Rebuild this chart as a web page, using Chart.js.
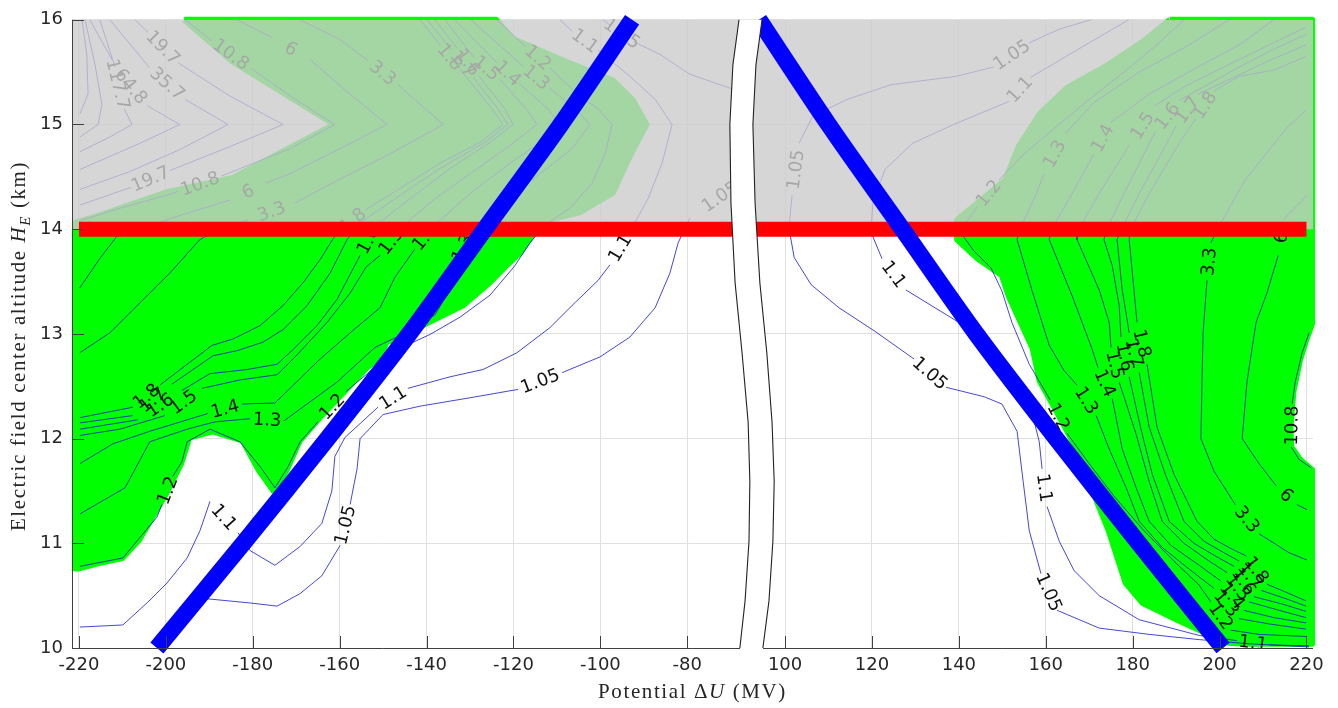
<!DOCTYPE html>
<html>
<head>
<meta charset="utf-8">
<title>Electric field center altitude vs potential</title>
<script src="https://cdn.jsdelivr.net/npm/chart.js@4.4.1/dist/chart.umd.min.js"></script>
<style>
  html, body { margin: 0; padding: 0; background: #ffffff; }
  #wrap { width: 1338px; height: 708px; position: relative; }
</style>
</head>
<body>
<div id="wrap"><canvas id="chart" width="1338" height="708"></canvas></div>
<script>
// ---------------- axes ----------------
const xTicksLeft  = [-220, -200, -180, -160, -140, -120, -100, -80];
const xTicksRight = [100, 120, 140, 160, 180, 200, 220];
const yTicks      = [10, 11, 12, 13, 14, 15, 16];
const xLimits     = [-221.6, 221.5];      // MV
const yLimits     = [10, 16];             // km
const breakShift  = 157.5;                // MV skipped between the two panels
const toAxis = v => (v < 0 ? v : v - breakShift);

// ---------------- reference lines ----------------
const ceilingAltitude = 14;               // km, shaded above
const ceilingSpan     = [-220, 220];      // MV
const blueLeft  = [[-202.05,10.0],[-182.2,11.0],[-162.8,12.0],[-144.0,13.0],[-126.6,14.0],[-109.1,15.0],[-92.7,16.0]];
const blueRight = [[94.0,16.0],[110.0,15.0],[127.0,14.0],[144.0,13.0],[162.4,12.0],[181.4,11.0],[200.8,10.0]];

// ---------------- region where the ratio exceeds the threshold ----------------
const greenLeft = [[-195.8,16],[-124,16],[-120.2,15.82],[-107.9,15.6],[-97.1,15.42],[-92.5,15.23],[-89.4,15.0],[-91.7,14.82],[-94,14.63],[-97.1,14.35],[-104.8,14.16],[-110.9,14.1],[-115.5,13.95],[-118.6,13.77],[-121.7,13.65],[-125.5,13.49],[-131.7,13.27],[-140,13.1],[-146,12.97],[-149.2,12.92],[-150.8,12.77],[-153.9,12.67],[-164.6,12.2],[-169.2,11.98],[-172.3,11.69],[-175.2,11.5],[-178.5,11.69],[-182.3,11.98],[-189.2,12.07],[-194.6,12.01],[-196.5,11.76],[-200,11.47],[-203.1,11.25],[-206.2,11.03],[-210,10.86],[-215.4,10.81],[-220,10.76],[-220.9,10.76],[-220.9,14.06],[-215.4,14.13],[-200,14.35],[-184.6,14.49],[-161.2,15.0],[-184.6,15.6],[-195.8,16]];
const greenRight = [[188.6,16],[221.3,16],[221.3,13.1],[220.0,12.95],[218.5,12.75],[217.0,12.45],[216.3,12.1],[216.5,11.92],[218.5,11.8],[221.3,11.7],[221.3,10.04],[206,10.04],[202,10.05],[198.1,10.12],[190.2,10.27],[182.3,10.43],[178.4,10.62],[174.4,11.13],[170.4,11.54],[166.5,11.95],[161.7,12.32],[158.6,12.55],[157,12.86],[153.8,13.15],[151.4,13.37],[149.9,13.56],[144.3,13.72],[139.6,13.9],[139.6,14.09],[144.3,14.25],[150.7,14.47],[153.8,14.79],[158.6,15.1],[164.9,15.35],[174.4,15.57],[182.3,15.79],[188.6,16]];

// ---------------- contour lines (null = label position) ----------------
const cL105a = [[-201.4,10.0],[-195.6,10.27],[-190.5,10.47],[-180.6,10.43],[-174.4,10.40],[-169.1,10.52],[-164.1,10.69],[-159.9,10.98],null,[-157.6,11.37],[-156.0,11.71],[-155.3,12.0],[-150.0,12.23],[-141.5,12.31],[-130.0,12.39],[-118.95,12.47],null,[-108.8,12.63],[-100.1,12.78],[-93.2,12.97],[-87.4,13.25],[-84.0,13.58],[-82.1,13.87],[-79.4,14.11],null,[-65.6,14.51]];
const cL105b = [[-99.4,16.0],[-97.8,15.95],null,[-92.3,15.79],[-86.3,15.67],[-79.4,15.48],[-69.0,15.33]];
const cL11 = [[-219.8,10.20],[-209.9,10.22],[-204.35,10.43],[-199.75,10.62],[-195.1,10.86],[-192.15,11.12],[-189.85,11.40],null,[-183.4,11.10],[-180.6,10.93],[-174.9,10.79],[-169.1,10.97],[-164.1,11.19],[-161.8,11.50],[-161.1,11.83],[-158.8,12.01],[-151.2,12.30],null,[-144.3,12.48],[-134.6,12.59],[-127.0,12.66],[-119.2,12.82],[-111.6,13.06],[-105.8,13.30],[-100.55,13.51],[-97.8,13.66],null,[-93.2,13.98],[-89.05,14.29],[-85.8,14.63],[-83.5,15.0],[-87.4,15.24],[-93.2,15.46],[-100.55,15.71],null,[-106.5,15.89],[-109.3,16.0]];
const cL12 = [[-219.8,10.78],[-209.9,10.86],[-202.05,11.25],[-200.9,11.37],null,[-198.4,11.64],[-196.3,11.78],[-195.1,11.97],[-189.85,12.09],[-182.95,11.97],[-177.9,11.71],[-174.9,11.53],[-171.9,11.73],[-169.1,11.97],[-165.0,12.16],null,[-158.55,12.45],[-147.3,12.84],[-139.2,12.995],[-132.3,13.16],[-125.4,13.37],[-119.7,13.65],[-116.2,13.87],[-112.75,14.04],[-107.0,14.20],[-101.9,14.44],[-98.9,14.72],[-97.3,15.0],[-100.55,15.15],[-104.7,15.27],[-111.6,15.54],null,[-117.1,15.74],[-123.8,16.0]];
const cL13 = [[-219.8,11.28],[-209.4,11.53],[-203.7,11.97],[-195.1,12.09],[-188.7,12.16],[-180.6,12.19],null,[-172.8,12.17],[-160.6,12.54],[-151.9,12.87],[-143.8,13.03],[-138.1,13.18],[-135.1,13.39],[-133.5,13.66],null,[-130.0,13.98],[-122.0,14.27],[-113.9,14.53],[-106.5,14.77],[-102.4,15.0],[-105.8,15.15],[-111.8,15.35],null,[-117.6,15.55],[-129.8,16.0]];
const cL14 = [[-219.8,11.76],[-212.2,11.95],[-203.7,12.07],[-190.3,12.24],null,[-182.5,12.33],[-174.9,12.34],[-164.5,12.76],[-157.6,13.01],[-150.7,13.25],[-147.3,13.54],[-142.7,13.81],null,[-138.1,14.04],[-130.0,14.34],[-120.8,14.63],[-112.75,14.86],[-109.3,15.0],[-112.1,15.15],[-118.7,15.39],null,[-123.8,15.59],[-133.5,16.0]];
const cL15 = [[-219.8,12.03],[-210.6,12.09],[-200.2,12.22],null,[-191.7,12.48],[-182.95,12.56],[-174.4,12.61],[-169.8,12.80],[-162.9,13.11],[-157.6,13.39],[-153.9,13.64],[-150.7,13.75],null,[-145.7,14.02],[-138.1,14.29],[-130.0,14.53],[-120.8,14.80],[-114.6,15.0],[-116.7,15.13],[-123.3,15.44],null,[-129.1,15.64],[-135.8,16.0]];
const cL16 = [[-219.8,12.09],[-206.4,12.18],null,[-196.3,12.46],[-189.85,12.62],[-181.3,12.66],[-174.4,12.71],[-170.75,12.85],[-165.2,13.08],[-160.6,13.33],[-155.3,13.75],null,[-151.6,14.04],[-143.8,14.29],[-134.6,14.58],[-125.4,14.83],[-120.1,15.0],[-122.0,15.15],[-127.9,15.46],null,[-133.0,15.73],[-138.1,16.0]];
const cL17 = [[-219.8,12.15],[-207.6,12.22],null,[-198.6,12.52],[-189.2,12.79],[-183.6,12.84],[-177.7,12.92],[-173.05,13.04],[-167.5,13.27],[-162.2,13.58],[-158.3,13.90],[-155.3,14.06],[-147.3,14.29],[-136.9,14.58],[-126.6,14.83],[-121.3,15.0],[-123.6,15.15],[-129.3,15.45],null,[-134.2,15.71],[-139.9,16.0]];
const cL18 = [[-219.8,12.20],[-207.6,12.30],null,[-201.4,12.51],[-189.4,12.89],[-184.6,12.95],[-178.3,13.08],[-173.05,13.27],[-168.4,13.49],[-164.5,13.71],[-161.5,13.91],[-160.2,13.98],null,[-153.9,14.19],[-146.1,14.39],[-136.9,14.63],[-127.7,14.83],[-122.4,15.0],[-124.95,15.15],[-132.3,15.53],null,[-136.9,15.76],[-141.5,16.0]];
const cL33 = [[-169.1,16.0],[-159.9,15.81],[-153.5,15.61],null,[-146.6,15.38],[-136.2,15.0],[-148.4,14.72],[-159.9,14.48],[-170.3,14.25],null,[-181.1,14.09],[-188.7,13.98],[-192.2,13.90],[-199.1,13.58],[-203.7,13.39],[-212.9,13.01],[-219.8,12.82]];
const cL6 = [[-183.6,16.0],[-175.6,15.83],null,[-166.8,15.62],[-157.6,15.29],[-149.1,15.0],[-159.9,14.77],[-171.4,14.53],[-177.0,14.44],null,[-185.2,14.28],[-199.1,14.10],[-211.3,13.93],[-215.2,13.72],[-219.8,13.44]];
const cL108 = [[-195.6,16.0],[-189.4,15.80],null,[-180.6,15.54],[-169.1,15.21],[-161.1,15.0],[-171.4,14.77],[-187.1,14.51],null,[-197.2,14.36],[-200.2,14.32],[-210.6,14.20],[-219.8,14.08]];
const cL197 = [[-207.1,16.0],[-204.1,15.88],null,[-197.2,15.59],[-185.2,15.27],[-173.0,15.0],[-185.2,14.79],[-199.1,14.56],null,[-208.0,14.40],[-219.8,14.23]];
const cL357 = [[-212.9,16.0],[-203.7,15.54],null,[-195.6,15.24],[-185.7,15.0],[-196.8,14.76],[-208.3,14.55],[-219.8,14.38]];
const cL648 = [[-215.2,16.0],[-211.7,15.55],null,[-204.3,15.18],[-196.8,15.0],[-206.0,14.82],[-219.8,14.57]];
const cL1177 = [[-217.5,16.0],[-212.4,15.62],null,[-209.6,15.15],[-207.8,15.0],[-212.9,14.88],[-219.8,14.74]];
const cL214 = [[-218.6,16.0],[-216.3,15.57],[-214.7,15.19],[-215.6,15.0],[-219.8,14.88]];
const cL389 = [[-219.3,16.0],[-218.2,15.67],[-217.9,15.29],[-219.8,15.1]];

const cR105 = [[170.4,16.0],[163.1,15.91],[156.2,15.78],null,[148.1,15.55],[139.4,15.46],[124.4,15.38],[114.3,15.24],[106.4,15.08],[103.2,14.82],null,[101.6,14.32],[100.9,14.01],[102.1,13.73],[106.0,13.47],[112.4,13.25],[120.5,13.03],[129.7,12.76],null,[137.05,12.49],[145.8,12.40],[149.9,12.33],[153.4,12.07],[154.8,11.59],[156.2,11.12],[158.9,10.71],null,[162.6,10.36],[172.3,10.19],[183.8,10.13],[195.3,10.08],[206.8,10.04],[220.6,10.01]];
const cR11 = [[179.1,16.0],[170.4,15.79],[156.5,15.45],null,[151.5,15.22],[138.8,15.0],[129.3,14.82],[123.0,14.57],[120.2,14.25],[119.8,13.97],[122.3,13.72],null,[127.8,13.42],[140.0,13.11],[146.95,12.87],[152.7,12.64],[156.2,12.35],[158.5,11.97],[159.15,11.71],null,[160.3,11.35],[163.1,11.02],[166.5,10.74],[172.3,10.50],[181.5,10.27],[195.3,10.12],[204.0,10.07],null,[211.4,10.03],[220.6,10.02]];
const cR12 = [[191.8,16.0],[186.1,15.78],[178.0,15.50],[170.0,15.24],[161.9,14.96],[155.0,14.72],[149.25,14.47],null,[144.4,14.22],[141.9,14.08],[140.0,13.99],[143.5,13.79],[147.4,13.63],[149.9,13.41],[152.2,13.11],[156.2,12.71],[161.0,12.37],null,[164.9,12.05],[170.0,11.76],[175.7,11.45],[182.6,11.12],[189.5,10.83],[195.3,10.60],[198.0,10.44],null,[202.6,10.17],[209.1,10.13],[219.9,10.11]];
const cR13 = [[202.2,16.0],[193.0,15.76],[181.5,15.50],[171.1,15.21],[164.4,14.91],null,[159.6,14.53],[157.3,14.29],[153.9,13.99],[153.4,13.90],[156.8,13.42],[160.8,12.89],[164.2,12.65],[167.2,12.51],null,[171.6,12.22],[174.6,11.90],[178.5,11.53],[181.5,11.21],[186.8,10.96],[193.4,10.74],[198.7,10.57],null,[204.5,10.28],[211.4,10.23],[219.9,10.18]];
const cR14 = [[212.5,16.0],[204.5,15.76],[194.1,15.53],[183.8,15.29],[175.0,15.02],null,[171.1,14.72],[165.4,14.29],[161.2,13.99],[160.8,13.90],[166.1,13.36],[170.7,12.85],[172.0,12.68],null,[175.3,12.38],[177.6,11.90],[180.8,11.53],[183.8,11.21],[188.8,10.98],[195.3,10.79],[200.3,10.64],null,[205.6,10.36],[212.5,10.29],[219.9,10.24]];
const cR15 = [[219.9,15.93],[211.4,15.76],[201.0,15.55],[191.8,15.36],[185.2,15.18],null,[179.2,14.80],[172.3,14.34],[167.4,13.99],[167.2,13.90],[172.3,13.42],[174.6,13.11],[175.0,12.87],null,[176.9,12.54],[180.8,12.04],[183.8,11.59],[186.8,11.21],[191.8,11.0],[197.6,10.83],[201.7,10.72],null,[206.8,10.44],[213.7,10.36],[219.9,10.29]];
const cR16 = [[219.9,15.86],[212.5,15.72],[204.5,15.55],[196.4,15.36],[190.7,15.23],null,[185.2,14.93],[178.0,14.34],[173.9,13.99],[173.4,13.90],[175.3,13.65],[176.9,13.27],[177.3,12.97],null,[179.2,12.59],[181.9,12.09],[184.5,11.66],[188.4,11.21],[194.1,11.0],[199.4,10.87],[203.3,10.78],null,[207.9,10.49],[214.4,10.42],[219.9,10.35]];
const cR17 = [[219.9,15.76],[211.4,15.61],[202.2,15.43],[195.1,15.29],null,[190.0,14.99],[187.2,14.77],[181.5,14.34],[177.3,13.99],[176.4,13.90],[177.6,13.42],[179.2,13.01],null,[181.5,12.63],[183.8,12.11],[187.5,11.66],[191.8,11.21],[196.4,11.02],[201.0,10.91],[204.5,10.83],null,[209.6,10.55],[215.3,10.47],[219.9,10.40]];
const cR18 = [[219.9,15.65],[212.5,15.52],[204.5,15.46],[198.7,15.32],null,[194.4,15.05],[190.7,14.82],[183.8,14.34],[179.4,13.99],[179.2,13.90],[181.0,13.11],null,[183.3,12.71],[185.6,12.11],[189.5,11.66],[194.8,11.21],[198.7,11.04],[202.6,10.95],[206.1,10.88],null,[210.9,10.61],[216.0,10.52],[219.9,10.45]];
const cR33 = [[219.9,15.14],[215.3,14.96],[205.9,14.47],[199.65,14.01],[198.0,13.87],null,[197.1,13.51],[196.2,13.01],[196.0,12.63],[195.7,12.0],[198.7,11.69],[203.6,11.37],null,[209.1,11.09],[216.0,10.91],[220.1,10.84]];
const cR6 = [[220.1,14.32],[216.0,14.15],[214.8,14.09],null,[213.5,13.75],[210.9,13.39],[208.4,13.11],[206.3,12.54],[205.2,12.0],[209.1,11.76],[213.0,11.55],null,[217.8,11.37],[220.1,11.32]];
const cR108 = [[220.6,13.01],[219.0,12.82],[217.4,12.54],[216.7,12.33],null,[216.5,11.92],[218.3,11.80],[221.1,11.72]];

const contourSet = [
  { level: '1.05', path: cL105a }, { level: '1.05', path: cL105b },
  { level: '1.1', path: cL11 }, { level: '1.2', path: cL12 },
  { level: '1.3', path: cL13 }, { level: '1.4', path: cL14 },
  { level: '1.5', path: cL15 }, { level: '1.6', path: cL16 },
  { level: '1.7', path: cL17 }, { level: '1.8', path: cL18 },
  { level: '3.3', path: cL33 }, { level: '6', path: cL6 },
  { level: '10.8', path: cL108 }, { level: '19.7', path: cL197 },
  { level: '35.7', path: cL357 }, { level: '64.8', path: cL648 },
  { level: '117.7', path: cL1177 }, { level: '214', path: cL214 },
  { level: '389', path: cL389 },
  { level: '1.05', path: cR105 }, { level: '1.1', path: cR11 },
  { level: '1.2', path: cR12 }, { level: '1.3', path: cR13 },
  { level: '1.4', path: cR14 }, { level: '1.5', path: cR15 },
  { level: '1.6', path: cR16 }, { level: '1.7', path: cR17 },
  { level: '1.8', path: cR18 }, { level: '3.3', path: cR33 },
  { level: '6', path: cR6 }, { level: '10.8', path: cR108 }
];

// axis-break outline, in axis units
const breakLeftEdge  = [[-68.1,16],[-69.5,15.57],[-70.2,15.0],[-69.95,14.25],[-69.0,13.49],[-67.4,12.82],[-66.0,12.16],[-65.6,11.59],[-65.8,11.02],[-66.7,10.45],[-67.9,10.0]];
const breakRightEdge = [[-62.8,16],[-64.2,15.57],[-64.9,15.0],[-64.4,14.25],[-63.3,13.49],[-61.7,12.82],[-60.5,12.16],[-60.0,11.59],[-60.3,11.02],[-61.2,10.45],[-62.6,10.0]];

// ---------------- build datasets ----------------
const xTickValues = xTicksLeft.concat(xTicksRight);
const toPts = arr => arr.map(p => (p ? { x: toAxis(p[0]), y: p[1] } : { x: null, y: null }));

const datasets = [];
contourSet.forEach(c => {
  datasets.push({
    label: 'contour ' + c.level,
    data: toPts(c.path),
    borderColor: 'rgba(25,25,205,0.8)',
    borderWidth: 1,
    pointRadius: 0,
    fill: false,
    spanGaps: false,
    order: 8
  });
});
const firstContourIndex = 0;

[greenLeft, greenRight].forEach(g => {
  datasets.push({
    label: 'exceeds',
    data: toPts(g),
    borderColor: '#00ff00',
    backgroundColor: '#00ff00',
    borderWidth: 6,
    borderJoinStyle: 'round',
    pointRadius: 0,
    fill: 'shape',
    clip: { left: 0, top: 6, right: 8, bottom: 0 },
    order: 10
  });
});

datasets.push({
  label: 'above ceiling',
  data: [
    { x: toAxis(xLimits[0]), y: ceilingAltitude },
    { x: toAxis(xLimits[1]), y: ceilingAltitude },
    { x: toAxis(xLimits[1]), y: yLimits[1] },
    { x: toAxis(xLimits[0]), y: yLimits[1] },
    { x: toAxis(xLimits[0]), y: ceilingAltitude }
  ],
  backgroundColor: 'rgba(204,204,204,0.8)',
  borderWidth: 0,
  pointRadius: 0,
  fill: 'shape',
  order: 6
});

datasets.push({
  label: 'ceiling',
  data: ceilingSpan.map(v => ({ x: toAxis(v), y: ceilingAltitude })),
  borderColor: '#ff0000',
  borderWidth: 15,
  borderCapStyle: 'butt',
  pointRadius: 0,
  fill: false,
  order: 4
});

[blueLeft, blueRight].forEach(b => {
  datasets.push({
    label: 'trajectory',
    data: toPts(b),
    borderColor: '#0000ff',
    borderWidth: 17,
    borderCapStyle: 'butt',
    borderJoinStyle: 'round',
    tension: 0.3,
    pointRadius: 0,
    fill: false,
    clip: false,
    order: 2
  });
});

// ---------------- plugins ----------------
const contourLabels = {
  id: 'contourLabels',
  afterDatasetDraw(chart, args) {
    if (args.index !== firstContourIndex) return;
    const { ctx, chartArea } = chart;
    const xs = chart.scales.x, ys = chart.scales.y;
    ctx.save();
    ctx.beginPath();
    ctx.rect(chartArea.left, chartArea.top, chartArea.right - chartArea.left, chartArea.bottom - chartArea.top);
    ctx.clip();
    ctx.font = '18px "DejaVu Sans"';
    ctx.fillStyle = '#111111';
    ctx.textAlign = 'center';
    ctx.textBaseline = 'middle';
    contourSet.forEach(c => {
      const p = c.path;
      for (let i = 1; i < p.length - 1; i++) {
        if (p[i] !== null) continue;
        const a = p[i - 1], b = p[i + 1];
        const ax = xs.getPixelForValue(toAxis(a[0])), ay = ys.getPixelForValue(a[1]);
        const bx = xs.getPixelForValue(toAxis(b[0])), by = ys.getPixelForValue(b[1]);
        let ang = Math.atan2(by - ay, bx - ax);
        if (ang > Math.PI / 2) ang -= Math.PI;
        else if (ang <= -Math.PI / 2) ang += Math.PI;
        ctx.save();
        ctx.translate((ax + bx) / 2, (ay + by) / 2);
        ctx.rotate(ang);
        ctx.fillText(c.level, 0, 1);
        ctx.restore();
      }
    });
    ctx.restore();
  }
};

const axisDecor = {
  id: 'axisDecor',
  afterDatasetsDraw(chart) {
    const { ctx, chartArea } = chart;
    const xs = chart.scales.x, ys = chart.scales.y;
    const L = chartArea.left, B = chartArea.bottom, T = chartArea.top, R = chartArea.right;
    ctx.save();
    // axis lines
    ctx.strokeStyle = '#404040';
    ctx.lineWidth = 1;
    ctx.beginPath();
    ctx.moveTo(L + 0.5, T);
    ctx.lineTo(L + 0.5, B + 0.5);
    ctx.lineTo(R, B + 0.5);
    ctx.stroke();
    // inward tick marks
    const tl = 12;
    ctx.beginPath();
    xTickValues.forEach(v => {
      const px = Math.round(xs.getPixelForValue(toAxis(v))) + 0.5;
      ctx.moveTo(px, B);
      ctx.lineTo(px, B - tl);
    });
    yTicks.forEach(v => {
      const py = Math.round(ys.getPixelForValue(v)) + 0.5;
      ctx.moveTo(L, py);
      ctx.lineTo(L + tl, py);
    });
    ctx.stroke();

    // axis break band
    const left = breakLeftEdge.map(p => [xs.getPixelForValue(p[0]), ys.getPixelForValue(p[1])]);
    const right = breakRightEdge.map(p => [xs.getPixelForValue(p[0]), ys.getPixelForValue(p[1])]);
    ctx.beginPath();
    left.forEach((p, i) => { const yy = i === left.length - 1 ? p[1] + 2 : p[1]; i ? ctx.lineTo(p[0], yy) : ctx.moveTo(p[0], yy); });
    for (let i = right.length - 1; i >= 0; i--) {
      const p = right[i];
      const yy = i === right.length - 1 ? p[1] + 2 : p[1];
      ctx.lineTo(p[0], yy);
    }
    ctx.closePath();
    ctx.fillStyle = '#ffffff';
    ctx.fill();
    ctx.strokeStyle = '#222222';
    ctx.lineWidth = 1.1;
    [left, right].forEach(edge => {
      ctx.beginPath();
      edge.forEach((p, i) => (i ? ctx.lineTo(p[0], p[1]) : ctx.moveTo(p[0], p[1])));
      ctx.stroke();
    });
    ctx.restore();
  }
};

const xTitleParts = [
  { text: 'Potential ' }, { text: '\u0394' }, { text: 'U', italic: true }, { text: ' (MV)' }
];
const yTitleParts = [
  { text: 'Electric field center altitude ' }, { text: 'H', italic: true },
  { text: 'E', italic: true, sub: true }, { text: ' (km)' }
];

function drawRich(ctx, parts, cx, baseY, size) {
  const fontOf = p => (p.italic ? 'italic ' : '') + (p.sub ? Math.round(size * 0.7) : size) + 'px "Liberation Serif"';
  let total = 0;
  const widths = parts.map(p => { ctx.font = fontOf(p); const w = ctx.measureText(p.text).width; total += w; return w; });
  let x = cx - total / 2;
  parts.forEach((p, i) => {
    ctx.font = fontOf(p);
    ctx.fillText(p.text, x, baseY + (p.sub ? size * 0.25 : 0));
    x += widths[i];
  });
}

const axisTitles = {
  id: 'axisTitles',
  afterDraw(chart) {
    const { ctx, chartArea } = chart;
    ctx.save();
    ctx.fillStyle = '#262626';
    ctx.textBaseline = 'alphabetic';
    ctx.textAlign = 'left';
    try { ctx.letterSpacing = '1.6px'; } catch (e) {}
    drawRich(ctx, xTitleParts, (chartArea.left + chartArea.right) / 2, 698, 21);
    ctx.translate(25, 346);
    ctx.rotate(-Math.PI / 2);
    drawRich(ctx, yTitleParts, 0, 0, 21);
    ctx.restore();
  }
};

// ---------------- chart ----------------
new Chart(document.getElementById('chart'), {
  type: 'line',
  data: { datasets },
  options: {
    responsive: false,
    animation: false,
    devicePixelRatio: 1,
    events: [],
    layout: { padding: { top: 15, right: 25, bottom: 0, left: 0 } },
    plugins: { legend: { display: false }, tooltip: { enabled: false }, title: { display: false } },
    scales: {
      x: {
        type: 'linear',
        min: toAxis(xLimits[0]),
        max: toAxis(xLimits[1]),
        afterBuildTicks: s => { s.ticks = xTickValues.map(v => ({ value: toAxis(v) })); },
        afterFit: s => { s.height = 60; },
        ticks: {
          callback: (v, i) => String(xTickValues[i]),
          font: { family: 'DejaVu Sans', size: 18 },
          color: '#262626',
          padding: 7,
          autoSkip: false,
          maxRotation: 0,
          minRotation: 0
        },
        grid: { color: '#e0e0e0', drawTicks: false, lineWidth: 1 },
        border: { display: false }
      },
      y: {
        type: 'linear',
        min: yLimits[0],
        max: yLimits[1],
        afterBuildTicks: s => { s.ticks = yTicks.map(v => ({ value: v })); },
        afterFit: s => { s.width = 72; },
        ticks: {
          callback: v => String(v),
          font: { family: 'DejaVu Sans', size: 18 },
          color: '#262626',
          padding: 9
        },
        grid: { color: '#e0e0e0', drawTicks: false, lineWidth: 1 },
        border: { display: false }
      }
    }
  },
  plugins: [contourLabels, axisDecor, axisTitles]
});
</script>
</body>
</html>
